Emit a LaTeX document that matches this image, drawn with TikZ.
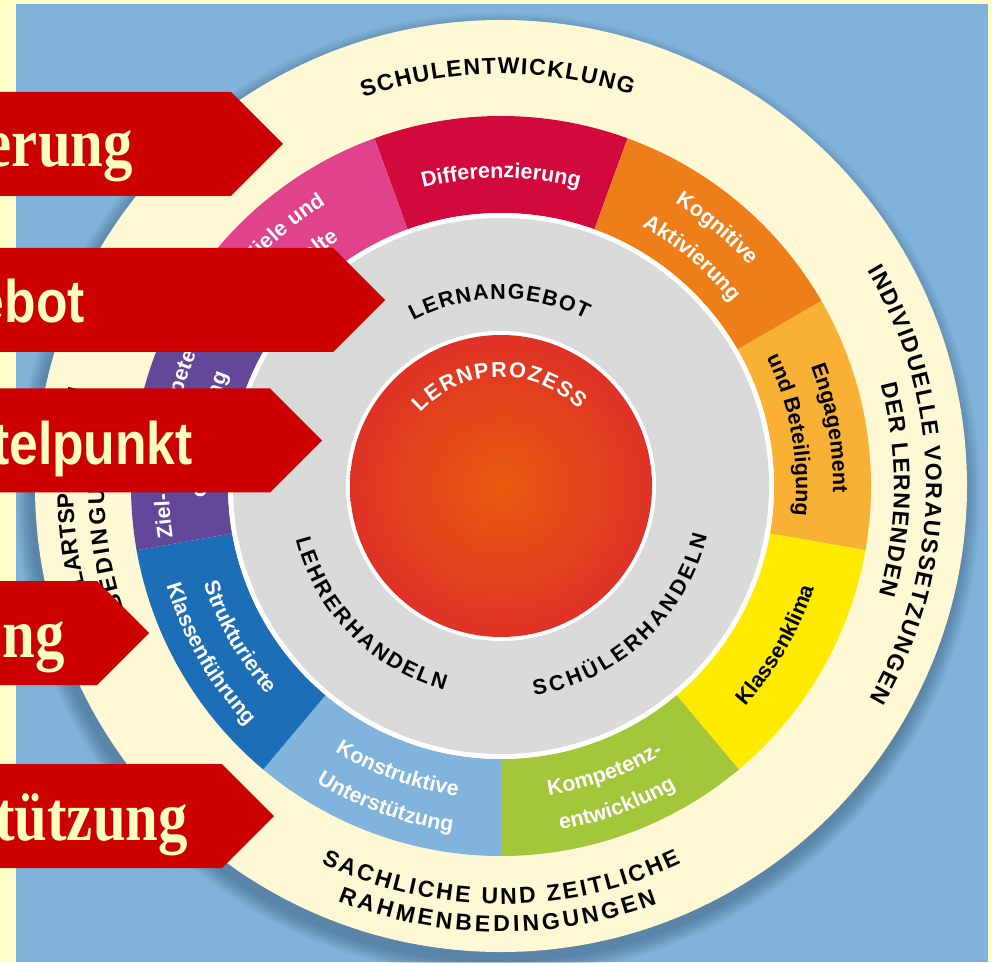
\documentclass[tikz,border=0pt]{standalone}
\usepackage{fontspec}
\setmainfont{Liberation Sans}
\newfontfamily\bannerserif{Liberation Serif}
\usetikzlibrary{decorations.text}

\definecolor{paper}{HTML}{FFFFC8}
\definecolor{bgblue}{HTML}{80B3D9}
\definecolor{ringcream}{HTML}{FFF8D4}
\definecolor{midgray}{HTML}{DADADA}
\definecolor{bannerred}{HTML}{CC0000}
\definecolor{bannertext}{HTML}{FFFFC0}
\definecolor{shadowblue}{HTML}{1F3F5F}
\definecolor{cInh}{HTML}{E0428B}
\definecolor{cDiff}{HTML}{D2093C}
\definecolor{cKog}{HTML}{EE7E1A}
\definecolor{cEng}{HTML}{F8B134}
\definecolor{cKlima}{HTML}{FFEB00}
\definecolor{cKomp}{HTML}{A3C63B}
\definecolor{cKonst}{HTML}{80B4DC}
\definecolor{cStruk}{HTML}{1C6EB6}
\definecolor{cZiel}{HTML}{634899}
\definecolor{ballmid}{HTML}{E85A0E}
\definecolor{ballrim}{HTML}{D50A3E}

\pgfdeclareradialshading{lernball}{\pgfpoint{0bp}{0bp}}{color(0bp)=(ballmid); color(50bp)=(ballrim)}

\newcommand{\segfont}{\bfseries\fontsize{21.5}{24}\selectfont}
\newcommand{\ringfont}{\bfseries\fontsize{23}{25}\selectfont}
\newcommand{\corefont}{\bfseries\fontsize{21.5}{23}\selectfont}

% radius, from, to, colour, font, text
\newcommand{\arclabel}[6]{%
  \path[decorate,decoration={text along path,text align=center,text color=#4,text={|#5|#6}}]
    (#2:#1pt) arc[start angle=#2,end angle=#3,radius=#1pt];}
\newcommand{\fitlabel}[6]{%
  \path[decorate,decoration={text along path,text align={fit to path},text color=#4,text={|#5|#6}}]
    (#2:#1pt) arc[start angle=#2,end angle=#3,radius=#1pt];}

\tikzset{
  banner/.style={fill=bannerred},
  wordserif/.style={anchor=base east,inner sep=0pt,text=bannertext,xscale=0.84,
    font=\bannerserif\bfseries\fontsize{70}{72}\selectfont},
  wordsans/.style={anchor=base east,inner sep=0pt,text=bannertext,xscale=0.86,
    font=\bfseries\fontsize{60}{62}\selectfont}
}

\begin{document}
\begin{tikzpicture}[x=1pt,y=1pt]
    \useasboundingbox (0,0) rectangle (992,962);
    \clip (0,0) rectangle (992,962);
    \fill[paper] (0,0) rectangle (992,962);
    \fill[bgblue] (16,0) rectangle (988,958);

    \begin{scope}[shift={(501,476)}]
        \coordinate (C) at (0,0);
        \foreach \i in {1,...,10} {
            \pgfmathsetmacro{\rr}{466+1.6*\i}
            \fill[shadowblue,fill opacity=0.045] (-3pt,-9pt) circle[radius=\rr pt];
        };
        \fill[ringcream] (C) circle[radius=466pt];

        \foreach \a/\col in {90/cDiff,50/cKog,10/cEng,-30/cKlima,-70/cKomp,-110/cKonst,-150/cStruk,170/cZiel,130/cInh}
            \fill[\col] (\a-20:273pt) arc[start angle=\a-20,end angle=\a+20,radius=273pt]
                -- (\a+20:370pt) arc[start angle=\a+20,end angle=\a-20,radius=370pt] -- cycle;

        \fill[white] (C) circle[radius=273pt];
        \fill[midgray] (C) circle[radius=268pt];
        \fill[white] (C) circle[radius=155pt];
        \shade[shading=lernball] (C) circle[radius=151pt];

        \arclabel{308}{118}{62}{white}{\segfont}{Differenzierung}
        \arclabel{332}{78}{22}{white}{\segfont}{Kognitive}
        \arclabel{295}{78}{22}{white}{\segfont}{Aktivierung}
        \arclabel{332}{38}{-18}{black}{\segfont}{Engagement}
        \arclabel{295}{38}{-18}{black}{\segfont}{und Beteiligung}
        \arclabel{329}{-58}{-2}{black}{\segfont}{Klassenklima}
        \arclabel{313}{-98}{-42}{white}{\segfont}{Kompetenz-}
        \arclabel{349}{-98}{-42}{white}{\segfont}{entwicklung}
        \arclabel{313}{-138}{-82}{white}{\segfont}{Konstruktive}
        \arclabel{349}{-138}{-82}{white}{\segfont}{Unterstützung}
        \arclabel{313}{-178}{-122}{white}{\segfont}{Strukturierte}
        \arclabel{349}{-178}{-122}{white}{\segfont}{Klassenführung}
        \arclabel{332}{198}{142}{white}{\segfont}{Ziel- und Kompetenz-}
        \arclabel{295}{198}{142}{white}{\segfont}{orientierung}
        \arclabel{332}{158}{102}{white}{\segfont}{Ziele und}
        \arclabel{295}{158}{102}{white}{\segfont}{Inhalte}

        \fitlabel{109}{137.5}{44.5}{white}{\corefont}{LERNPROZESS}
        \fitlabel{187}{118}{63}{black}{\corefont}{LERNANGEBOT}
        \fitlabel{212}{-165.5}{-105.5}{black}{\corefont}{LEHRERHANDELN}
        \fitlabel{212}{-81}{-13.5}{black}{\corefont}{SCHÜLERHANDELN}

        \fitlabel{412}{109.5}{71.5}{black}{\ringfont}{SCHULENTWICKLUNG}
        \fitlabel{425}{30.5}{-30}{black}{\ringfont}{INDIVIDUELLE VORAUSSETZUNGEN}
        \fitlabel{393}{15}{-16}{black}{\ringfont}{DER LERNENDEN}
        \fitlabel{418}{-115.5}{-64.5}{black}{\ringfont}{SACHLICHE UND ZEITLICHE}
        \fitlabel{446}{-111.5}{-69.5}{black}{\ringfont}{RAHMENBEDINGUNGEN}
        \fitlabel{428}{202}{166.5}{black}{\ringfont}{SCHULARTSPEZIFISCHE}
        \fitlabel{397}{198}{169}{black}{\ringfont}{BEDINGUNGEN}
    \end{scope}

    \foreach \m/\xr in {818/231,662/333,521.5/270,329/97,146/222}
        \fill[banner] (-5,\m+52) -- (\xr,\m+52) -- (\xr+52,\m) -- (\xr,\m-52) -- (-5,\m-52) -- cycle;

    \node[wordserif] (wordA) at (133,795) {erung};
    \node[wordsans] (wordB) at (85,639) {ebot};
    \node[wordsans] (wordC) at (193,497) {telpunkt};
    \node[wordserif] (wordD) at (65,305) {ng};
    \node[wordserif] (wordE) at (188,122) {tützung};
\end{tikzpicture}
\end{document}
